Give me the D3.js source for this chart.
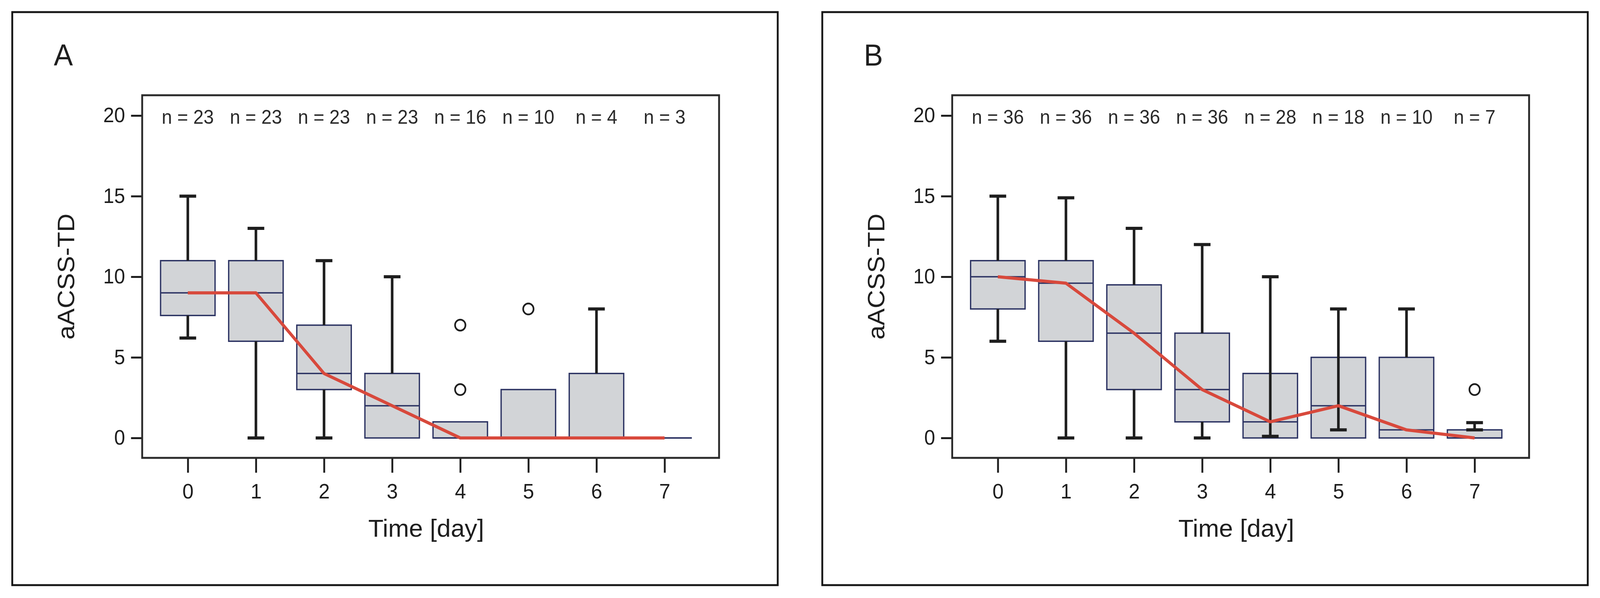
<!DOCTYPE html>
<html>
<head>
<meta charset="utf-8">
<script src="https://cdn.jsdelivr.net/npm/d3@7"></script>
<style>
    html, body { margin: 0; padding: 0; background: #fff; overflow: hidden; }
    #chart { display: block; width: 100vw; height: 100vh; }
    text { font-family: "Liberation Sans", Arial, Helvetica, sans-serif; }
</style>
</head>
<body>
<svg id="chart" viewBox="0 0 4310 1532" preserveAspectRatio="none"></svg>
<script>
const days = [0, 1, 2, 3, 4, 5, 6, 7];
const yTicks = [0, 5, 10, 15, 20];
const panelLabels = ['A', 'B'];

// panel A
const nA = [23, 23, 23, 23, 16, 10, 4, 3];
const q1A = [7.6, 6, 3, 0, 0, 0, 0, 0];
const medA = [9, 9, 4, 2, 0, 0, 0, 0];
const q3A = [11, 11, 7, 4, 1, 3, 4, 0];
const lowA = [6.2, 0, 0, 0, 0, 0, 0, 0];
const highA = [15, 13, 11, 10, 1, 3, 8, 0];
const outliersA = [[4, 7], [4, 3], [5, 8]];
const trendA = [9, 9, 4, 2, 0, 0, 0, 0];

// panel B
const nB = [36, 36, 36, 36, 28, 18, 10, 7];
const q1B = [8, 6, 3, 1, 0, 0, 0, 0];
const medB = [10, 9.6, 6.5, 3, 1, 2, 0.5, 0];
const q3B = [11, 11, 9.5, 6.5, 4, 5, 5, 0.5];
const lowB = [6, 0, 0, 0, 0.1, 0.5, 0, 0.5];
const highB = [15, 14.9, 13, 12, 10, 8, 8, 0.95];
const outliersB = [[7, 3]];
const trendB = [10, 9.6, 6.5, 3, 1, 2, 0.5, 0];

const panels = [
    { label: panelLabels[0], n: nA, q1: q1A, med: medA, q3: q3A, low: lowA, high: highA, outliers: outliersA, trend: trendA },
    { label: panelLabels[1], n: nB, q1: q1B, med: medB, q3: q3B, low: lowB, high: highB, outliers: outliersB, trend: trendB }
];

const INK = '#1e1e1e';
const BOX_FILL = '#d2d4d7';
const BOX_STROKE = '#2b3262';
const RED = '#d8493c';
const FONT = '"Liberation Sans", Arial, Helvetica, sans-serif';

const panelOffset = 2182;
const frame = { left: 383, right: 1937, top: 244, bottom: 1173 };

const svg = d3.select('#chart');

const x = d3.scaleLinear().domain([-0.67, 7.8]).range([frame.left, frame.right]);
const y = d3.scaleLinear().domain([-1.235, 21.26]).range([frame.bottom, frame.top]);
const boxW = x(0.8) - x(0);
const capW = x(0.245) - x(0);

panels.forEach((p, pi) => {
    const g = svg.append('g').attr('transform', `translate(${pi * panelOffset},0)`);

    // outer border
    g.append('rect')
        .attr('x', 33).attr('y', 31)
        .attr('width', 2062).attr('height', 1468)
        .attr('fill', 'none').attr('stroke', '#161616').attr('stroke-width', 5);

    g.append('text')
        .attr('x', 145).attr('y', 168)
        .attr('font-size', 77).attr('fill', INK)
        .text(p.label);

    // axes
    const yAxis = d3.axisLeft(y).tickValues(yTicks).tickSize(30).tickPadding(16).tickFormat(d3.format('d'));
    const yG = g.append('g').attr('transform', `translate(${frame.left},0)`).call(yAxis);
    const xAxis = d3.axisBottom(x).tickValues(days).tickSize(38).tickPadding(28).tickFormat(d3.format('d'));
    const xG = g.append('g').attr('transform', `translate(0,${frame.bottom})`).call(xAxis);

    [yG, xG].forEach((ax) => {
        ax.attr('color', INK).attr('font-size', null).attr('font-family', FONT);
        ax.select('.domain').remove();
        ax.selectAll('.tick line').attr('stroke-width', 5);
    });
    yG.selectAll('.tick text').attr('font-size', 53);
    xG.selectAll('.tick text').attr('font-size', 54);

    g.append('rect')
        .attr('x', frame.left).attr('y', frame.top)
        .attr('width', frame.right - frame.left).attr('height', frame.bottom - frame.top)
        .attr('fill', 'none').attr('stroke', '#2a2a2a').attr('stroke-width', 5);

    // axis titles
    g.append('text')
        .attr('transform', `translate(200,${(frame.top + frame.bottom) / 2}) rotate(-90)`)
        .attr('text-anchor', 'middle').attr('font-size', 64).attr('fill', INK)
        .attr('textLength', 323).attr('lengthAdjust', 'spacingAndGlyphs')
        .text('aACSS-TD');

    g.append('text')
        .attr('x', (x(0) + x(7)) / 2).attr('y', 1375)
        .attr('text-anchor', 'middle').attr('font-size', 63).attr('fill', INK)
        .attr('textLength', 312).attr('lengthAdjust', 'spacingAndGlyphs')
        .text('Time [day]');

    // n labels
    g.selectAll('.nlab').data(days).join('text')
        .attr('class', 'nlab')
        .attr('x', (d) => x(d)).attr('y', 317)
        .attr('text-anchor', 'middle').attr('font-size', 50).attr('fill', '#2a2a2a')
        .text((d, i) => `n = ${p.n[i]}`);

    // boxes
    g.selectAll('.box').data(days).join('path')
        .attr('class', 'box')
        .attr('d', (d, i) => {
            const path = d3.path();
            path.rect(x(d) - boxW / 2, y(p.q3[i]), boxW, y(p.q1[i]) - y(p.q3[i]));
            return path.toString();
        })
        .attr('fill', BOX_FILL).attr('stroke', BOX_STROKE).attr('stroke-width', 3.5);

    g.selectAll('.median').data(days).join('line')
        .attr('class', 'median')
        .attr('x1', (d) => x(d) - boxW / 2).attr('x2', (d) => x(d) + boxW / 2)
        .attr('y1', (d, i) => y(p.med[i])).attr('y2', (d, i) => y(p.med[i]))
        .attr('stroke', BOX_STROKE).attr('stroke-width', 3.5);

    // whiskers
    const wg = g.append('g').attr('stroke', INK);
    days.forEach((d, i) => {
        const segs = [];
        const caps = [];
        if (p.low[i] > p.q1[i]) {
            segs.push([p.low[i], Math.max(p.high[i], p.q3[i])]);
            caps.push(p.low[i]);
            if (p.high[i] > p.q3[i]) caps.push(p.high[i]);
        } else {
            if (p.high[i] > p.q3[i]) { segs.push([p.q3[i], p.high[i]]); caps.push(p.high[i]); }
            if (p.low[i] < p.q1[i]) { segs.push([p.q1[i], p.low[i]]); caps.push(p.low[i]); }
        }
        segs.forEach(([a, b]) => {
            wg.append('line')
                .attr('x1', x(d)).attr('x2', x(d))
                .attr('y1', y(a)).attr('y2', y(b))
                .attr('stroke-width', 7);
        });
        caps.forEach((v) => {
            wg.append('line')
                .attr('x1', x(d) - capW / 2).attr('x2', x(d) + capW / 2)
                .attr('y1', y(v)).attr('y2', y(v))
                .attr('stroke-width', 8);
        });
    });

    // median trend
    const line = d3.line()
        .x((d) => x(d))
        .y((d, i) => y(p.trend[i]));
    g.append('path')
        .attr('d', line(days))
        .attr('fill', 'none').attr('stroke', RED).attr('stroke-width', 8)
        .attr('stroke-linejoin', 'round');

    // outliers
    g.selectAll('.outlier').data(p.outliers).join('circle')
        .attr('class', 'outlier')
        .attr('cx', (d) => x(d[0])).attr('cy', (d) => y(d[1]))
        .attr('r', 14)
        .attr('fill', '#fff').attr('stroke', INK).attr('stroke-width', 4.5);
});
</script>
</body>
</html>
